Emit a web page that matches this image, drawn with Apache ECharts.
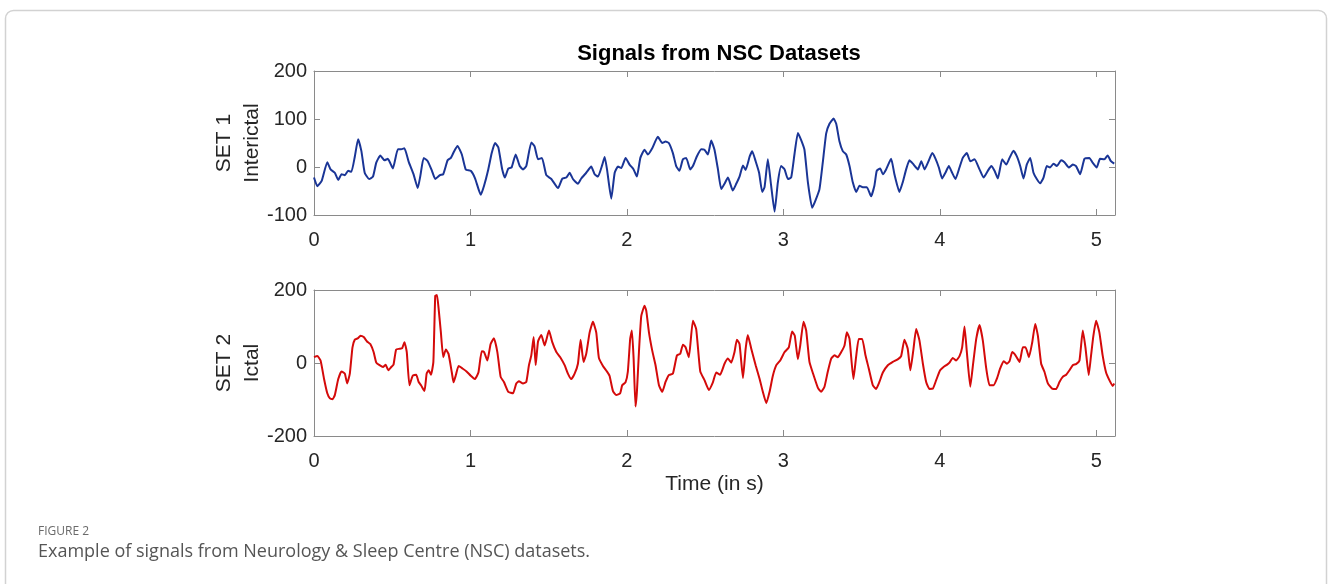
<!DOCTYPE html>
<html>
<head>
<meta charset="utf-8">
<script src="https://cdn.jsdelivr.net/npm/echarts@6/dist/echarts.min.js"></script>
<style>
  html, body { margin: 0; padding: 0; background: #fff; }
  #chart { width: 1328px; height: 584px; }
</style>
</head>
<body>
<div id="chart"></div>
<script>
// time (s), amplitude
var interictal = [
  [0,-22],[0.021,-40],[0.049,-29],[0.085,10],[0.106,-5],[0.133,-12],[0.155,-27],[0.176,-15],[0.197,-17],[0.218,-8],
  [0.239,-10],[0.261,22],[0.282,58],[0.303,33],[0.324,-12],[0.352,-25],[0.377,-20],[0.398,9],[0.424,24],[0.45,14],
  [0.472,17],[0.504,-3],[0.536,37],[0.557,37],[0.578,39],[0.606,10],[0.636,-15],[0.663,-44],[0.68,-18],[0.701,19],
  [0.727,12],[0.754,-8],[0.775,-25],[0.805,-17],[0.826,-15],[0.854,14],[0.875,19],[0.896,33],[0.917,44],[0.945,26],
  [0.97,-5],[1.002,-8],[1.03,-24],[1.066,-58],[1.087,-39],[1.114,-5],[1.136,29],[1.157,50],[1.178,41],[1.203,-5],
  [1.22,-22],[1.242,-3],[1.263,-1],[1.289,26],[1.315,2],[1.336,-5],[1.357,2],[1.389,51],[1.41,43],[1.432,16],[1.457,19],
  [1.485,-17],[1.517,-25],[1.56,-44],[1.587,-24],[1.613,-22],[1.634,-12],[1.655,-25],[1.687,-35],[1.708,-24],[1.74,-12],
  [1.772,1],[1.794,-15],[1.815,-20],[1.843,5],[1.858,21],[1.873,-5],[1.9,-66],[1.922,-12],[1.943,1],[1.964,-2],
  [1.992,19],[2.017,5],[2.043,-5],[2.064,-20],[2.086,19],[2.113,36],[2.134,26],[2.162,39],[2.198,63],[2.226,50],
  [2.247,53],[2.268,50],[2.294,29],[2.315,2],[2.336,-8],[2.358,16],[2.379,19],[2.405,-5],[2.422,2],[2.447,22],
  [2.475,37],[2.496,36],[2.518,26],[2.539,55],[2.56,36],[2.582,-5],[2.603,-46],[2.624,-35],[2.646,-22],[2.677,-49],
  [2.699,-35],[2.72,-20],[2.742,3],[2.759,-6],[2.785,22],[2.801,33],[2.823,12],[2.845,-12],[2.865,-52],[2.88,-42],
  [2.901,16],[2.922,-39],[2.944,-93],[2.965,-32],[2.986,2],[3.008,-5],[3.029,-25],[3.05,-22],[3.071,26],[3.093,71],
  [3.114,56],[3.135,36],[3.157,-32],[3.184,-85],[3.205,-70],[3.231,-46],[3.252,9],[3.274,70],[3.295,90],[3.321,101],
  [3.338,90],[3.359,53],[3.38,33],[3.402,26],[3.423,2],[3.444,-32],[3.466,-52],[3.487,-39],[3.508,-42],[3.534,-42],
  [3.561,-61],[3.582,-39],[3.597,-8],[3.619,-3],[3.636,-15],[3.657,-5],[3.689,17],[3.71,-15],[3.742,-52],[3.763,-32],
  [3.785,-5],[3.806,14],[3.828,7],[3.86,-5],[3.882,12],[3.903,-5],[3.924,9],[3.952,29],[3.973,17],[3.994,-1],
  [4.015,-24],[4.036,-12],[4.058,2],[4.079,-12],[4.1,-25],[4.126,-1],[4.147,19],[4.173,29],[4.195,12],[4.222,16],
  [4.254,-5],[4.28,-22],[4.307,-8],[4.329,2],[4.35,-8],[4.371,-24],[4.399,16],[4.425,5],[4.446,19],[4.471,34],
  [4.493,22],[4.514,2],[4.535,-24],[4.556,5],[4.578,19],[4.599,-12],[4.62,-25],[4.642,-34],[4.663,-22],[4.684,2],
  [4.705,-1],[4.727,7],[4.748,2],[4.776,14],[4.797,10],[4.825,-1],[4.85,5],[4.871,2],[4.897,-15],[4.925,17],
  [4.956,19],[4.977,9],[5.003,-1],[5.024,17],[5.052,16],[5.073,24],[5.094,12],[5.115,7]
];

var ictal = [
  [0,16],[0.021,19],[0.042,7],[0.064,-43],[0.085,-83],[0.102,-97],[0.119,-99],[0.133,-88],[0.155,-44],[0.176,-23],
  [0.197,-29],[0.212,-56],[0.229,-29],[0.246,43],[0.261,64],[0.282,68],[0.297,75],[0.318,71],[0.339,59],[0.36,52],
  [0.381,30],[0.398,1],[0.419,-6],[0.441,-11],[0.458,-5],[0.475,-20],[0.494,-11],[0.508,-5],[0.525,37],[0.547,39],
  [0.564,41],[0.578,57],[0.593,30],[0.61,-61],[0.631,-35],[0.653,-32],[0.669,-52],[0.684,-61],[0.706,-77],[0.72,-29],
  [0.733,-20],[0.748,-32],[0.763,3],[0.775,184],[0.786,186],[0.797,147],[0.811,84],[0.826,16],[0.843,37],[0.86,25],
  [0.881,-26],[0.892,-53],[0.907,-33],[0.924,-8],[0.949,-15],[0.975,-23],[1.002,-35],[1.028,-44],[1.051,-26],[1.072,32],
  [1.087,30],[1.108,7],[1.129,52],[1.15,68],[1.172,30],[1.193,-38],[1.214,-52],[1.242,-79],[1.272,-83],[1.293,-56],
  [1.31,-50],[1.336,-56],[1.357,-52],[1.374,-6],[1.389,21],[1.404,71],[1.417,-6],[1.432,59],[1.453,77],[1.474,48],
  [1.502,89],[1.523,57],[1.549,30],[1.574,16],[1.602,-6],[1.623,-29],[1.644,-44],[1.666,-29],[1.687,-2],[1.704,64],
  [1.723,3],[1.74,25],[1.762,84],[1.783,113],[1.804,84],[1.821,14],[1.847,-8],[1.872,-23],[1.889,-35],[1.911,-77],
  [1.932,-88],[1.957,-83],[1.97,-61],[1.991,-53],[2.006,-24],[2.021,66],[2.032,89],[2.043,12],[2.055,-119],[2.064,-79],
  [2.077,30],[2.092,129],[2.113,157],[2.124,143],[2.141,84],[2.162,34],[2.183,-6],[2.205,-61],[2.226,-79],[2.247,-52],
  [2.268,-33],[2.294,-29],[2.32,21],[2.341,25],[2.358,50],[2.375,43],[2.396,16],[2.422,116],[2.443,93],[2.469,-23],
  [2.496,-47],[2.524,-74],[2.549,-54],[2.571,-26],[2.596,-32],[2.624,-2],[2.646,12],[2.667,1],[2.688,30],[2.703,64],
  [2.72,52],[2.742,-41],[2.759,39],[2.773,77],[2.795,39],[2.823,-6],[2.848,-43],[2.869,-79],[2.891,-110],[2.912,-79],
  [2.933,-35],[2.955,-6],[2.98,7],[3.008,30],[3.035,43],[3.056,86],[3.073,75],[3.093,10],[3.108,48],[3.129,113],
  [3.146,89],[3.167,3],[3.193,-33],[3.221,-68],[3.242,-79],[3.263,-65],[3.284,-24],[3.306,12],[3.327,21],[3.348,16],
  [3.37,30],[3.391,48],[3.406,84],[3.423,66],[3.448,-44],[3.465,16],[3.482,66],[3.504,66],[3.525,21],[3.546,-15],
  [3.572,-61],[3.593,-71],[3.614,-52],[3.636,-26],[3.668,-6],[3.7,3],[3.731,10],[3.753,19],[3.774,64],[3.795,39],
  [3.812,-20],[3.832,39],[3.849,93],[3.87,62],[3.892,-2],[3.913,-52],[3.934,-71],[3.956,-70],[3.977,-47],[4.002,-20],
  [4.024,-11],[4.045,-5],[4.062,1],[4.083,14],[4.105,7],[4.126,19],[4.143,43],[4.158,100],[4.173,30],[4.195,-65],
  [4.212,-6],[4.233,66],[4.254,104],[4.275,62],[4.297,-15],[4.318,-61],[4.344,-61],[4.365,-43],[4.386,-15],[4.408,5],
  [4.429,-2],[4.446,5],[4.463,30],[4.484,21],[4.51,3],[4.531,43],[4.548,43],[4.57,16],[4.591,57],[4.61,107],
  [4.627,75],[4.648,-2],[4.669,-24],[4.691,-56],[4.718,-70],[4.744,-71],[4.765,-52],[4.786,-38],[4.808,-32],[4.829,-20],
  [4.85,-6],[4.871,-3],[4.893,7],[4.914,89],[4.931,43],[4.952,-33],[4.967,21],[4.982,75],[4.999,116],[5.02,84],
  [5.041,21],[5.063,-26],[5.084,-47],[5.105,-63],[5.115,-56]
];

var xTicks = [0, 1, 2, 3, 4, 5];
var yTicks1 = [-100, 0, 100, 200];
var yTicks2 = [-200, 0, 200];

var FONT = '"Liberation Sans", Arial, sans-serif';
var AXIS_COLOR = '#8a8a8a';
var TXT = '#262626';

function xAx(grid, pos, showLabel, extra) {
  var ax = {
    type: 'value', gridIndex: grid, position: pos,
    min: 0, max: 5.12, interval: 1,
    axisLine: { onZero: false, lineStyle: { color: AXIS_COLOR, width: 1 } },
    axisTick: { inside: true, length: 6, lineStyle: { color: AXIS_COLOR } },
    splitLine: { show: false },
    axisLabel: {
      show: showLabel, margin: 15, fontSize: 20, fontFamily: FONT, color: TXT,
      formatter: function(v) { return xTicks.indexOf(v) >= 0 ? String(v) : ''; }
    }
  };
  for (var k in extra) ax[k] = extra[k];
  return ax;
}

function yAx(grid, pos, min, max, step, name, showLabel) {
  return {
    type: 'value', gridIndex: grid, position: pos,
    min: min, max: max, interval: step,
    name: name, nameLocation: 'middle', nameRotate: 90, nameGap: 48,
    nameMoveOverlap: false,
    nameTextStyle: { fontSize: 21, fontFamily: FONT, color: TXT, lineHeight: 28 },
    axisLine: { onZero: false, lineStyle: { color: AXIS_COLOR, width: 1 } },
    axisTick: { inside: true, length: 6, lineStyle: { color: AXIS_COLOR } },
    splitLine: { show: false },
    axisLabel: { show: showLabel, margin: 7, fontSize: 20, fontFamily: FONT, color: TXT }
  };
}

var chart = echarts.init(document.getElementById('chart'));

var option = {
  backgroundColor: '#fff',
  animation: false,
  title: {
    text: 'Signals from NSC Datasets',
    left: 714, top: 38, textAlign: 'center',
    textStyle: { fontSize: 22, fontWeight: 'bold', fontFamily: FONT, color: '#000' }
  },
  grid: [
    { left: 314, top: 71, width: 801, height: 144 },
    { left: 314, top: 290, width: 801, height: 146 }
  ],
  xAxis: [
    xAx(0, 'bottom', true),
    xAx(0, 'top', false),
    xAx(1, 'bottom', true, {
      name: 'Time (in s)', nameLocation: 'middle', nameGap: 38,
      nameTextStyle: { fontSize: 21, fontFamily: FONT, color: TXT }
    }),
    xAx(1, 'top', false)
  ],
  yAxis: [
    yAx(0, 'left', yTicks1[0], yTicks1[yTicks1.length - 1], 100, 'SET 1\nInterictal', true),
    yAx(0, 'right', yTicks1[0], yTicks1[yTicks1.length - 1], 100, '', false),
    yAx(1, 'left', yTicks2[0], yTicks2[yTicks2.length - 1], 200, 'SET 2\nIctal', true),
    yAx(1, 'right', yTicks2[0], yTicks2[yTicks2.length - 1], 200, '', false)
  ],
  series: [
    {
      type: 'line', name: 'Interictal', xAxisIndex: 0, yAxisIndex: 0,
      data: interictal, showSymbol: false, smooth: 0.15,
      lineStyle: { color: '#1a3596', width: 2 }
    },
    {
      type: 'line', name: 'Ictal', xAxisIndex: 2, yAxisIndex: 2,
      data: ictal, showSymbol: false, smooth: 0.15,
      lineStyle: { color: '#d40a0a', width: 2 }
    }
  ],
  graphic: [
    {
      type: 'rect', left: 3, top: 8, silent: true, z: -1,
      shape: { width: 1321, height: 620, r: 8 },
      style: { fill: 'none', stroke: '#d2d2d2', lineWidth: 1.5 }
    },
    {
      type: 'text', left: 38, top: 526,
      style: { text: 'FIGURE 2', fontSize: 12, fontFamily: '"Open Sans", "Noto Sans", sans-serif', fill: '#6a6a6a' }
    },
    {
      type: 'text', left: 38, top: 543,
      style: { text: 'Example of signals from Neurology & Sleep Centre (NSC) datasets.', fontSize: 18, fontFamily: '"Open Sans", "Noto Sans", sans-serif', fill: '#555' }
    }
  ]
};

chart.setOption(option);
</script>
</body>
</html>
